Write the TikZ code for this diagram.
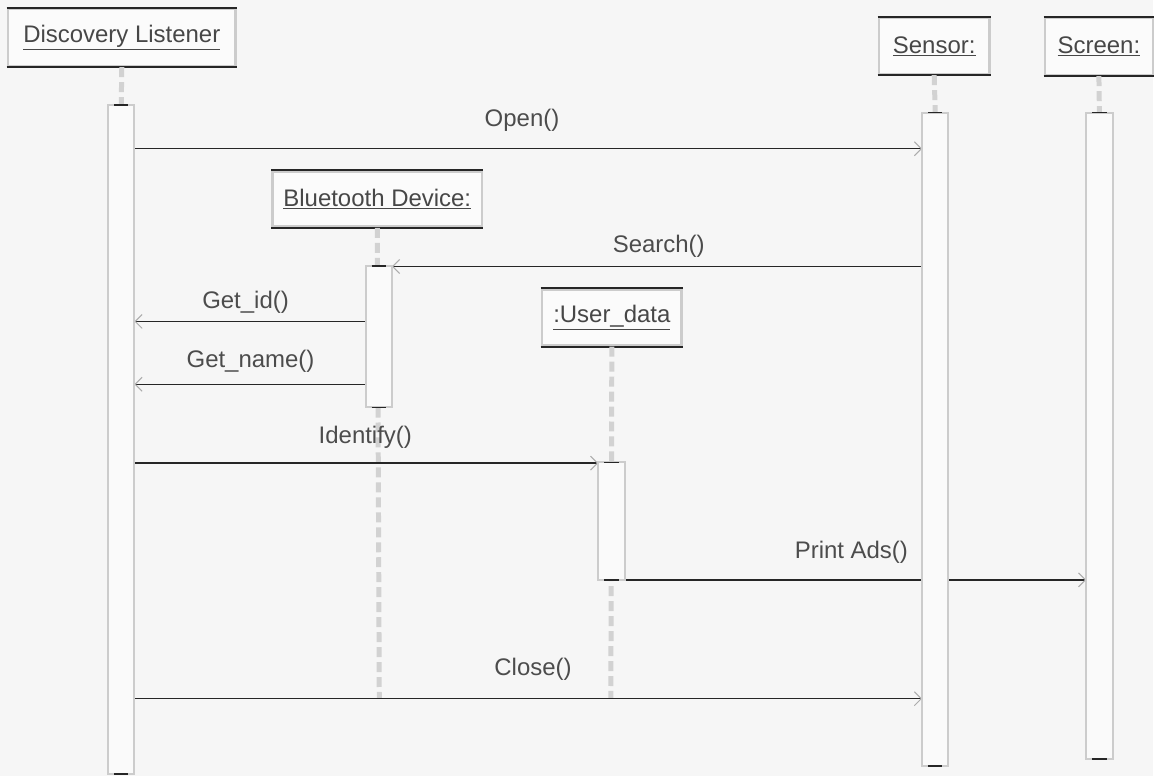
\documentclass[tikz,border=0pt]{standalone}
\usepackage{fontspec}
\setmainfont{Liberation Sans}
\usetikzlibrary{arrows.meta}
\begin{document}
\begin{tikzpicture}[x=1pt,y=-1pt,
  obj/.style={draw=gray!40, line width=2.6pt, fill=gray!3, inner sep=0pt,
    font=\fontsize{24}{27}\selectfont, text=black!72},
  edgecap/.style={draw=black!85, line width=1.8pt},
  bar/.style={inner sep=0pt, minimum width=26},
  life/.style={draw=gray!35, line width=5pt, dash pattern=on 10pt off 5pt},
  msg/.style={draw=black!85, line width=1.5pt, -{Straight Barb[length=7pt,width=14pt,color=gray!65,line width=1pt]}},
  lbl/.style={font=\fontsize{24}{27}\selectfont, text=black!70, inner sep=1pt}
]
\fill[gray!7] (0,0) rectangle (1155,777);

% objects
\node[obj, minimum width=228, minimum height=57] (dl) at (122,37.5) {\underline{Discovery Listener}};
\node[obj, minimum width=111, minimum height=56] (sn) at (936,46) {\underline{Sensor:}};
\node[obj, minimum width=108, minimum height=57] (sc) at (1101,46.5) {\underline{Screen:}};
\node[obj, minimum width=210, minimum height=55] (bt) at (378,199.5) {\underline{Bluetooth Device:}};
\node[obj, minimum width=140, minimum height=56] (ud) at (613,318) {\underline{:User\_data}};
\foreach \n in {dl,sn,sc,bt,ud}{
  \draw[edgecap] (\n.north west) -- (\n.north east);
  \draw[edgecap] (\n.south west) -- (\n.south east);
}

% lifeline ends
\coordinate (btend) at (380,700);
\coordinate (udend) at (612,700);

% activation bars (positions only)
\path node[bar, minimum height=670] (dlbar) at (121.5,440) {}
      node[bar, minimum height=654] (snbar) at (937,440) {}
      node[bar, minimum height=647] (scbar) at (1101.5,436.5) {}
      node[bar, minimum height=141] (btbar) at (379.5,337.5) {}
      node[bar, minimum height=117] (udbar) at (612.5,522) {};

% lifelines
\draw[life] (dl.south) -- (dlbar.north);
\draw[life] (sn.south) -- (snbar.north);
\draw[life] (sc.south) -- (scbar.north);
\draw[life] (bt.south) -- (btend);
\draw[life] (ud.south) -- (udend);

% messages
\draw[msg] (dlbar.east |- 0,149) -- (snbar.west |- 0,149);
\draw[msg] (snbar.west |- 0,267) -- (btbar.east |- 0,267);
\draw[msg] (btbar.west |- 0,322) -- (dlbar.east |- 0,322);
\draw[msg] (btbar.west |- 0,385) -- (dlbar.east |- 0,385);
\draw[msg] (dlbar.east |- 0,464) -- (udbar.west |- 0,464);
\draw[msg] (udbar.west |- 0,581) -- (scbar.west |- 0,581);
\draw[msg] (dlbar.east |- 0,700) -- (snbar.west |- 0,700);

% bars drawn on top
\foreach \n in {dlbar,snbar,scbar,btbar,udbar}{
  \draw[draw=gray!40, line width=2pt, fill=white!96!gray] (\n.north west) rectangle (\n.south east);
  \draw[edgecap] ([xshift=6pt]\n.north west) -- ([xshift=-6pt]\n.north east);
  \draw[edgecap] ([xshift=6pt]\n.south west) -- ([xshift=-6pt]\n.south east);
}

% labels
\node[lbl] (lopen) at (523,121) {Open()};
\node[lbl] (lsearch) at (660,247) {Search()};
\node[lbl] (lgetid) at (246,303) {Get\_id()};
\node[lbl] (lgetname) at (251,362) {Get\_name()};
\node[lbl] (lident) at (366,438) {Identify()};
\node[lbl] (lprint) at (853,553) {Print Ads()};
\node[lbl] (lclose) at (534,671) {Close()};
\end{tikzpicture}
\end{document}
